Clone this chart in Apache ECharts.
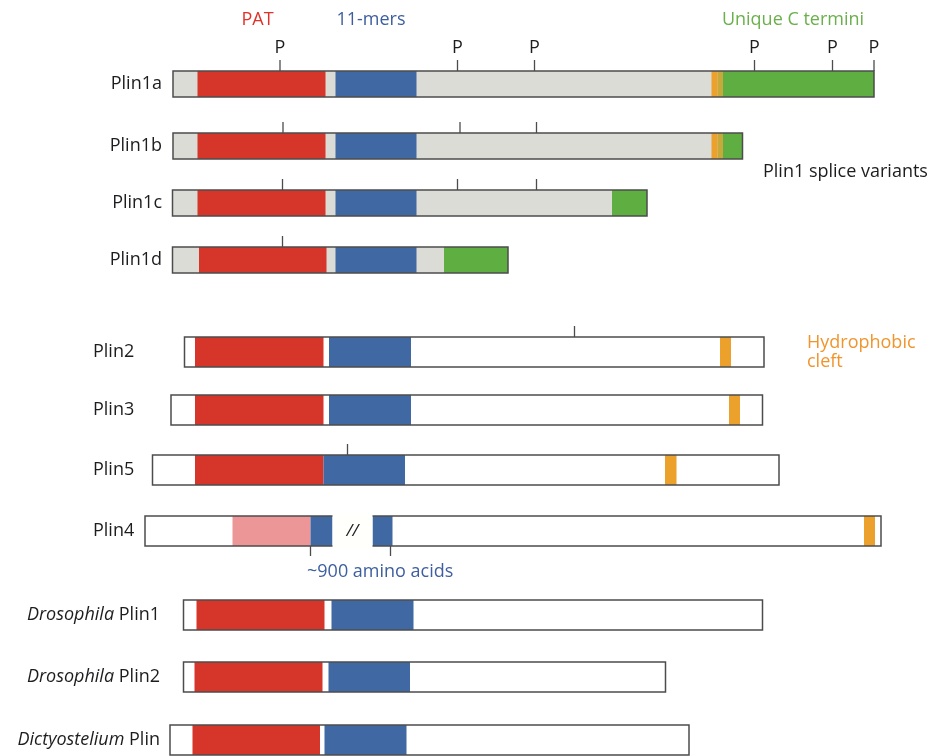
<!DOCTYPE html>
<html><head><meta charset="utf-8">
<script src="https://cdn.jsdelivr.net/npm/echarts@6/dist/echarts.min.js"></script>
<style>html,body{margin:0;padding:0;background:#fff}#c{width:933px;height:756px}</style>
</head><body><div id="c"></div>
<script>
// ---------- data (schematic positions along the sequence axis) ----------
const proteins = ['Plin1a','Plin1b','Plin1c','Plin1d','Plin2','Plin3','Plin5','Plin4','Drosophila Plin1','Drosophila Plin2','Dictyostelium Plin'];
const rowPos   = [84, 146, 203, 260, 352, 410, 470, 531, 615, 677, 740];
const protStart = [173, 173, 172.5, 172.5, 184.5, 171, 152.5, 145, 183.5, 183.5, 170];
const protEnd   = [874, 742.5, 647, 508, 764, 762.5, 779, 881, 762.5, 665.5, 689];
const patStart  = [197.5, 197.5, 197.5, 199, 195, 195, 195, 232.5, 196.5, 194.5, 192.5];
const patEnd    = [325.5, 325.5, 325.5, 326.5, 323.5, 323.5, 323.5, 310.5, 324.5, 322.5, 320];
const mersStart = [335.5, 335.5, 335.5, 335.5, 329, 329, 323.5, 310.5, 331.5, 328.5, 324.5];
const mersEnd   = [416.5, 416.5, 416.5, 416.5, 411, 411, 405, 332.5, 413.5, 410, 406.5];
// [row, start, end]
const cleftSites = [[0, 711.5, 717.5], [1, 711.5, 717.5], [4, 720, 731], [5, 729, 740], [6, 665, 676.5], [7, 864, 875]];
const mixedSites = [[0, 717.5, 723], [1, 717.5, 723]];
const cTermini   = [[0, 723, 874], [1, 723, 742.5], [2, 612, 647], [3, 444, 508]];
// Plin4 gap (~900 amino acids) and the 11-mer block after it
const plin4Gap   = [[7, 332.5, 372.5]];
const plin4Mers2 = [[7, 372.5, 392.5]];
// phosphorylation sites [row, position, label]
const phosphoSites = [[0,280,'P'],[0,457.5,'P'],[0,534.5,'P'],[0,754.5,'P'],[0,832.5,'P'],[0,874,'P'],
  [1,283,''],[1,460,''],[1,536.5,''],[2,282.5,''],[2,457.5,''],[2,536.5,''],[3,282.5,''],[4,574.5,''],[6,347.5,'']];
const gapMarks = [[7,310.5],[7,390.5]];

// ---------- styles ----------
const C = {grey:'#dcdcd7', white:'#ffffff', red:'#d6352a', blue:'#4068a3', green:'#5fae41', orange:'#eba12c', olive:'#c5a93b', pink:'#ec9698', line:'#4c4c4c', text:'#1d1d1f'};
const FONT = 'Open Sans';
const FS = 18;
const barH = r => (r < 4 ? 26 : 30);

// segments: [start, end, row, colorKey]
const segData = [];
proteins.forEach((p, r) => segData.push([protStart[r], protEnd[r], r, r < 4 ? 'grey' : 'white']));
proteins.forEach((p, r) => segData.push([patStart[r], patEnd[r], r, r === 7 ? 'pink' : 'red']));
proteins.forEach((p, r) => segData.push([mersStart[r], mersEnd[r], r, 'blue']));
plin4Mers2.forEach(d => segData.push([d[1], d[2], d[0], 'blue']));
cTermini.forEach(d => segData.push([d[1], d[2], d[0], 'green']));
mixedSites.forEach(d => segData.push([d[1], d[2], d[0], 'olive']));
cleftSites.forEach(d => segData.push([d[1], d[2], d[0], 'orange']));

function rectFor(api, s, e, r, extra) {
  const p0 = api.coord([s, rowPos[r]]);
  const p1 = api.coord([e, rowPos[r]]);
  const h = api.size([0, barH(r) + (extra || 0)])[1];
  return {x: p0[0], y: p0[1] - h / 2, width: p1[0] - p0[0], height: h};
}
const font = (sz, st) => (st ? st + ' ' : '') + sz + 'px "' + FONT + '"';

const chart = echarts.init(document.getElementById('c'), null, {renderer: 'canvas'});
const option = {
  animation: false,
  grid: {left: 0, right: 0, top: 0, bottom: 0},
  xAxis: {type: 'value', min: 0, max: 933, show: false},
  yAxis: {type: 'value', min: 0, max: 756, inverse: true, show: false},
  series: [
    { // domain segments
      type: 'custom', coordinateSystem: 'cartesian2d', z: 2,
      data: segData,
      encode: {x: [0, 1], y: 2},
      renderItem: (params, api) => {
        const d = segData[params.dataIndex];
        return {type: 'rect', shape: rectFor(api, d[0], d[1], d[2]), style: {fill: C[d[3]]}};
      }
    },
    { // outlines
      type: 'custom', z: 3,
      data: proteins.map((p, r) => [protStart[r], protEnd[r], r]),
      renderItem: (params, api) => {
        const r = params.dataIndex;
        return {type: 'rect', shape: rectFor(api, protStart[r], protEnd[r], r),
          style: {fill: 'none', stroke: C.line, lineWidth: 1.5}};
      }
    },
    { // Plin4 break
      type: 'custom', z: 4,
      data: plin4Gap,
      renderItem: (params, api) => {
        const d = plin4Gap[params.dataIndex];
        const sh = rectFor(api, d[1], d[2], d[0], 4);
        return {type: 'group', children: [
          {type: 'rect', shape: sh, style: {fill: '#fffffb'}},
          {type: 'text', style: {text: '//', x: sh.x + sh.width / 2, y: sh.y + sh.height / 2,
            align: 'center', verticalAlign: 'middle', fill: C.text, font: font(17, 'italic')}}
        ]};
      }
    },
    { // phosphorylation ticks
      type: 'custom', z: 3,
      data: phosphoSites,
      renderItem: (params, api) => {
        const d = phosphoSites[params.dataIndex];
        const r = d[0];
        const p = api.coord([d[1], rowPos[r]]);
        const top = p[1] - barH(r) / 2;
        const ch = [{type: 'line', shape: {x1: p[0], y1: top, x2: p[0], y2: top - 11}, style: {stroke: C.line, lineWidth: 1.3}}];
        if (d[2]) ch.push({type: 'text', style: {text: d[2], x: p[0], y: top - 23, align: 'center', verticalAlign: 'middle', fill: C.text, font: font(FS)}});
        return {type: 'group', children: ch};
      }
    },
    { // gap marks below Plin4
      type: 'custom', z: 3,
      data: gapMarks,
      renderItem: (params, api) => {
        const d = gapMarks[params.dataIndex];
        const p = api.coord([d[1], rowPos[d[0]]]);
        const bot = p[1] + barH(d[0]) / 2;
        return {type: 'line', shape: {x1: p[0], y1: bot, x2: p[0], y2: bot + 10}, style: {stroke: C.line, lineWidth: 1.3}};
      }
    },
    { // row labels
      type: 'custom', z: 3,
      data: proteins.map((p, r) => [r]),
      renderItem: (params, api) => {
        const r = params.dataIndex;
        const name = proteins[r];
        let x, align;
        if (r < 4) { x = 162; align = 'right'; }
        else if (r < 8) { x = 93; align = 'left'; }
        else { x = 160; align = 'right'; }
        const p = api.coord([x, rowPos[r]]);
        let text = name, rich = {};
        const m = name.match(/^(Drosophila|Dictyostelium) (.*)$/);
        if (m) { text = '{i|' + m[1] + '} {n|' + m[2] + '}';
          rich = {i: {fontStyle: 'italic', fontFamily: FONT, fontSize: FS, fill: C.text}, n: {fontFamily: FONT, fontSize: FS, fill: C.text}}; }
        return {type: 'text', style: {text: text, rich: rich, x: p[0], y: p[1], align: align, verticalAlign: 'middle',
          fill: C.text, font: font(FS)}};
      }
    }
  ],
  graphic: [
    {type: 'text', x: 257.5, y: 20, style: {text: 'PAT', align: 'center', verticalAlign: 'middle', fill: '#e0312b', font: font(FS)}},
    {type: 'text', x: 371, y: 20, style: {text: '11-mers', align: 'center', verticalAlign: 'middle', fill: '#3c5ea0', font: font(FS)}},
    {type: 'text', x: 793, y: 20, style: {text: 'Unique C termini', align: 'center', verticalAlign: 'middle', fill: '#6ab04c', font: font(FS)}},
    {type: 'text', x: 763, y: 172, style: {text: 'Plin1 splice variants', align: 'left', verticalAlign: 'middle', fill: C.text, font: font(FS)}},
    {type: 'text', x: 807, y: 343, style: {text: 'Hydrophobic', align: 'left', verticalAlign: 'middle', fill: '#f0952e', font: font(FS)}},
    {type: 'text', x: 807, y: 362, style: {text: 'cleft', align: 'left', verticalAlign: 'middle', fill: '#f0952e', font: font(FS)}},
    {type: 'text', x: 307, y: 572, style: {text: '~900 amino acids', align: 'left', verticalAlign: 'middle', fill: '#3d5fa0', font: font(FS)}}
  ]
};
chart.setOption(option);
</script></body></html>
